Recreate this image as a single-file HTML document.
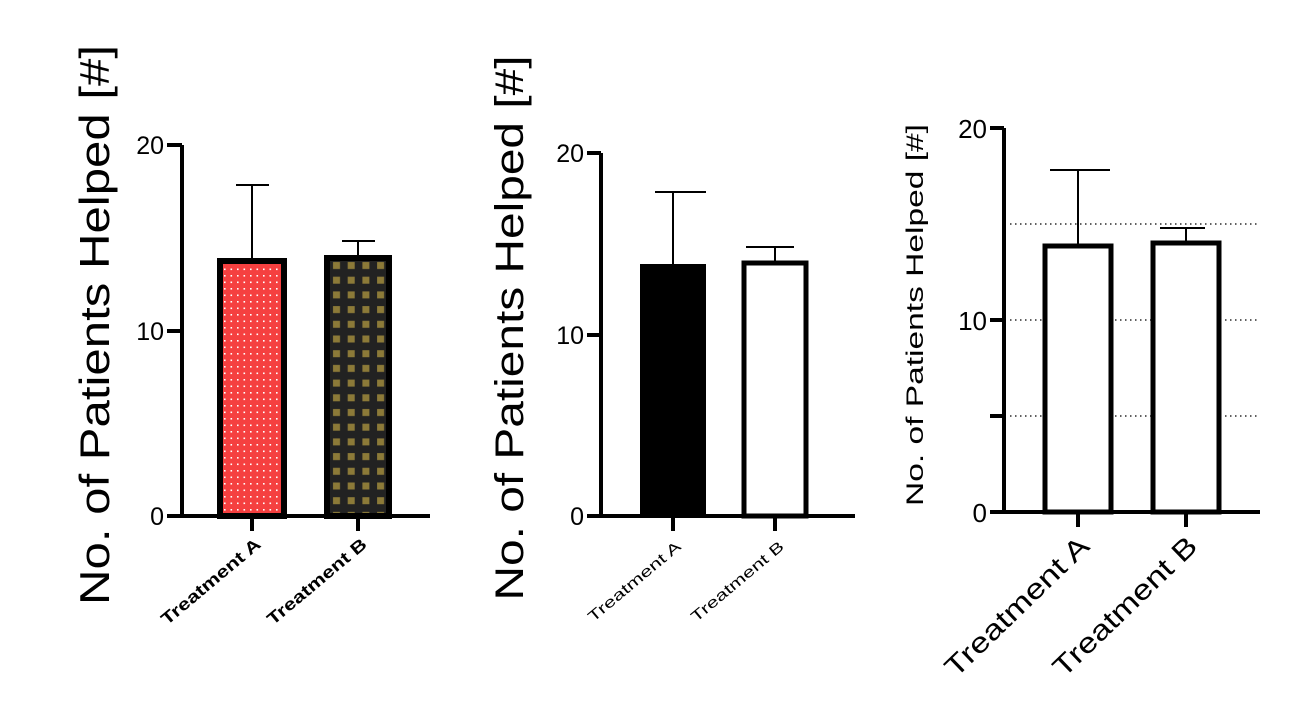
<!DOCTYPE html>
<html><head><meta charset="utf-8"><style>html,body{margin:0;padding:0;background:#fff}svg{display:block}</style></head>
<body>
<svg width="1301" height="710" viewBox="0 0 1301 710" xmlns="http://www.w3.org/2000/svg" font-family="Liberation Sans, sans-serif">
<defs>
<pattern id="dots" width="6.5" height="6.5" patternUnits="userSpaceOnUse" x="222" y="260">
<rect width="6.5" height="6.5" fill="#f54040"/><rect x="2" y="2" width="1.6" height="1.6" fill="#fff"/>
</pattern>
<pattern id="grid" width="14.7" height="14.7" patternUnits="userSpaceOnUse" x="329" y="258">
<rect width="14.7" height="14.7" fill="#222"/><rect x="4" y="4" width="7" height="7" fill="#8c7a38"/>
</pattern>
</defs>

<!-- Chart 1 -->
<text transform="translate(109,325) rotate(-90)" font-size="42" text-anchor="middle" textLength="560" lengthAdjust="spacingAndGlyphs">No. of Patients Helped [#]</text>
<g stroke="#000" fill="none">
<path d="M182,145 V516 M167,145 H182 M167,331 H182 M167,516 H430" stroke-width="4"/>
<path d="M252,516 V531 M358,516 V531" stroke-width="4"/>
<path d="M252,258 V185 M236,185 H269 M358,255 V241 M342,241 H375" stroke-width="2"/>
<rect x="220" y="261" width="64" height="255" fill="url(#dots)" stroke-width="6"/>
<rect x="327" y="258" width="62" height="258" fill="url(#grid)" stroke-width="6"/>
</g>
<g font-size="25" text-anchor="end"><text x="164" y="154">20</text><text x="164" y="340">10</text><text x="164" y="525">0</text></g>
<g font-size="17" font-weight="bold" text-anchor="end">
<text transform="translate(262,546) rotate(-40)" textLength="124" lengthAdjust="spacingAndGlyphs">Treatment A</text>
<text transform="translate(368,546) rotate(-40)" textLength="124" lengthAdjust="spacingAndGlyphs">Treatment B</text>
</g>

<!-- Chart 2 -->
<text transform="translate(523,328) rotate(-90)" font-size="40" text-anchor="middle" textLength="545" lengthAdjust="spacingAndGlyphs">No. of Patients Helped [#]</text>
<g stroke="#000" fill="none">
<path d="M601,153 V516 M587,153 H601 M587,335 H601 M587,516 H855" stroke-width="4"/>
<path d="M673,516 V531 M775,516 V531" stroke-width="4"/>
<path d="M673,264 V192 M655,192 H706 M775,261 V247 M746,247 H794" stroke-width="2"/>
<rect x="640" y="264" width="66" height="252" fill="#000" stroke="none"/>
<rect x="744" y="263" width="62" height="253" fill="#fff" stroke-width="5"/>
</g>
<g font-size="25" text-anchor="end"><text x="584" y="162">20</text><text x="584" y="344">10</text><text x="584" y="525">0</text></g>
<g font-size="15" text-anchor="end">
<text transform="translate(682,548) rotate(-40)" textLength="116" lengthAdjust="spacingAndGlyphs">Treatment A</text>
<text transform="translate(785,548) rotate(-40)" textLength="116" lengthAdjust="spacingAndGlyphs">Treatment B</text>
</g>

<!-- Chart 3 -->
<text transform="translate(923,315) rotate(-90)" font-size="24" text-anchor="middle" textLength="382" lengthAdjust="spacingAndGlyphs">No. of Patients Helped [#]</text>
<g stroke="#000" fill="none">
<path d="M1010,224 H1260 M1010,320 H1260 M1010,416 H1260" stroke-width="1.3" stroke-dasharray="1.5,3.5"/>
<path d="M1004,128 V512 M990,128 H1004 M990,320 H1004 M990,416 H1004 M990,512 H1260" stroke-width="4"/>
<path d="M1078,512 V527 M1186,512 V527" stroke-width="4"/>
<path d="M1078,245 V170 M1050,170 H1110 M1186,242 V228 M1160,228 H1205" stroke-width="2"/>
<rect x="1045" y="246" width="66" height="266" fill="#fff" stroke-width="5"/>
<rect x="1153" y="243" width="66" height="269" fill="#fff" stroke-width="5"/>
</g>
<g font-size="26" text-anchor="end"><text x="987" y="138">20</text><text x="987" y="330">10</text><text x="987" y="522">0</text></g>
<g font-size="28" text-anchor="end">
<text transform="translate(1091,548) rotate(-44)" textLength="188" lengthAdjust="spacingAndGlyphs">Treatment A</text>
<text transform="translate(1199,548) rotate(-44)" textLength="188" lengthAdjust="spacingAndGlyphs">Treatment B</text>
</g>
</svg>
</body></html>
